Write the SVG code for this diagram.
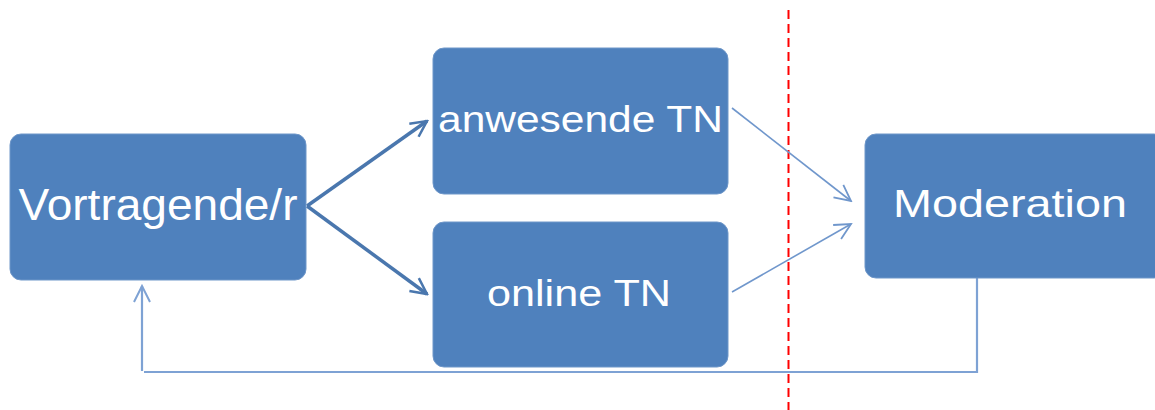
<svg xmlns="http://www.w3.org/2000/svg" width="1155" height="410" viewBox="0 0 1155 410">
<defs>
<style>
.box{fill:#4f81bd;stroke:#6f97c9;stroke-width:1}
.lbl{fill:#ffffff;font-family:"Liberation Sans",Arial,sans-serif;text-anchor:middle}
.thick{fill:none;stroke:#4a77ae;stroke-width:3.5}
.thin{fill:none;stroke:#7097cc;stroke-width:1.6}
.back{fill:none;stroke:#7ea2d4;stroke-width:2.2}
</style>
<marker id="openThick" viewBox="0 0 20 20" refX="18" refY="10" markerWidth="20" markerHeight="20" markerUnits="userSpaceOnUse" orient="auto">
<path d="M2,2 L18,10 L2,18" fill="none" stroke="#4a77ae" stroke-width="2.5"/>
</marker>
<marker id="openThin" viewBox="0 0 20 20" refX="18" refY="10" markerWidth="20" markerHeight="20" markerUnits="userSpaceOnUse" orient="auto">
<path d="M2,2 L18,10 L2,18" fill="none" stroke="#7097cc" stroke-width="1.8"/>
</marker>
<marker id="openBack" viewBox="0 0 20 20" refX="18" refY="10" markerWidth="20" markerHeight="20" markerUnits="userSpaceOnUse" orient="auto">
<path d="M2,2 L18,10 L2,18" fill="none" stroke="#7ea2d4" stroke-width="2"/>
</marker>
</defs>
<rect width="1155" height="410" fill="#ffffff"/>
<line x1="788.5" y1="10" x2="788.5" y2="410" stroke="#ff0000" stroke-width="2" stroke-dasharray="9 5"/>
<g id="connectors">
<line class="thick" x1="307" y1="206" x2="427" y2="121" marker-end="url(#openThick)"/>
<line class="thick" x1="307" y1="206" x2="427" y2="294" marker-end="url(#openThick)"/>
<line class="thin" x1="732" y1="108" x2="851" y2="201" marker-end="url(#openThin)"/>
<line class="thin" x1="732" y1="292" x2="851" y2="224" marker-end="url(#openThin)"/>
<polyline class="back" points="977,278 977,372 144,372"/>
<line class="back" x1="142" y1="371" x2="142" y2="286" marker-end="url(#openBack)"/>
</g>
<g id="node-vortragende">
<rect class="box" x="10" y="134" width="296" height="146" rx="11"/>
<text class="lbl" x="158" y="220" font-size="44" textLength="279" lengthAdjust="spacingAndGlyphs">Vortragende/r</text>
</g>
<g id="node-anwesende">
<rect class="box" x="433" y="48" width="295" height="146" rx="11"/>
<text class="lbl" x="580.5" y="132" font-size="37" textLength="285" lengthAdjust="spacingAndGlyphs">anwesende TN</text>
</g>
<g id="node-online">
<rect class="box" x="433" y="222" width="295" height="145" rx="11"/>
<text class="lbl" x="579" y="306" font-size="36" textLength="184" lengthAdjust="spacingAndGlyphs">online TN</text>
</g>
<g id="node-moderation">
<rect class="box" x="865" y="134" width="300" height="144" rx="11"/>
<text class="lbl" x="1010" y="217" font-size="39" textLength="234" lengthAdjust="spacingAndGlyphs">Moderation</text>
</g>
</svg>
